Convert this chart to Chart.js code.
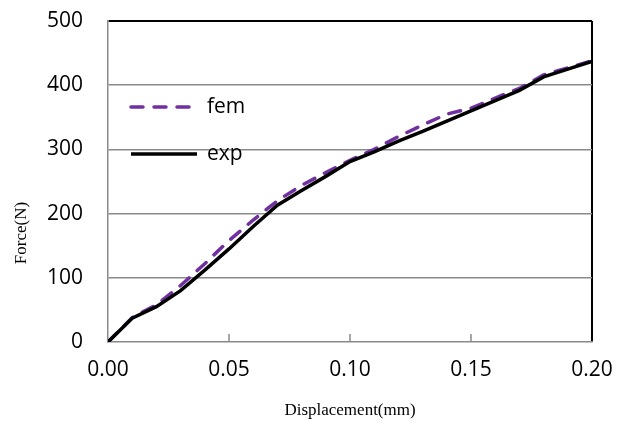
<!DOCTYPE html>
<html>
<head>
<meta charset="utf-8">
<script src="https://cdn.jsdelivr.net/npm/chart.js@4"></script>
<style>
  html, body { margin: 0; padding: 0; background: #fff; }
  #wrap { width: 619px; height: 429px; }
</style>
</head>
<body>
<div id="wrap"><canvas id="myChart" width="619" height="429"></canvas></div>
<script>
'use strict';

// ======= data =======

var displacement = [0, 0.01, 0.02, 0.03, 0.04, 0.05, 0.06, 0.07, 0.08, 0.09, 0.10,
  0.11, 0.12, 0.13, 0.14, 0.15, 0.16, 0.17, 0.18, 0.19, 0.20];
var femForce = [0, 38, 58, 88, 122, 158, 190, 220, 244, 264, 283,
  300, 320, 338, 355, 364, 380, 395, 416, 427, 438];
var expForce = [0, 37, 55, 80, 112, 145, 180, 213, 236, 258, 281,
  296, 313, 328, 344, 360, 376, 392, 413, 425, 437];

var xTicks = [0, 0.05, 0.10, 0.15, 0.20];
var yTicks = [0, 100, 200, 300, 400, 500];

var seriesNames = ['fem', 'exp'];
var xTitle = 'Displacement(mm)';
var yTitle = 'Force(N)';

// ======= end data =======

var GRAY = '#8a8a8a';
var PURPLE = '#7030a0';
var CLEAR = 'rgba(0,0,0,0)';
var tickFont = { family: '"Open Sans"', size: 21 };
var titleFont = '17px "Liberation Serif"';

function toPoints(xs, ys) {
  return xs.map(function (x, i) { return { x: x, y: ys[i] }; });
}

// short ticks pointing up into the plot from the x axis
var innerTicks = {
  id: 'innerTicks',
  afterDraw: function (chart) {
    var ctx = chart.ctx;
    var xs = chart.scales.x;
    var bottom = chart.chartArea.bottom;
    ctx.save();
    ctx.strokeStyle = GRAY;
    ctx.lineWidth = 1.5;
    xTicks.slice(1, -1).forEach(function (v) {
      var px = Math.round(xs.getPixelForValue(v));
      ctx.beginPath();
      ctx.moveTo(px, bottom);
      ctx.lineTo(px, bottom - 8);
      ctx.stroke();
    });
    ctx.restore();
  }
};

// legend sitting inside the plot, top left
var insideLegend = {
  id: 'insideLegend',
  afterDraw: function (chart) {
    var ctx = chart.ctx;
    var area = chart.chartArea;
    var rows = [107, 154];
    ctx.save();
    chart.data.datasets.forEach(function (ds, i) {
      var y = rows[i];
      ctx.beginPath();
      ctx.strokeStyle = ds.borderColor;
      ctx.lineWidth = ds.borderWidth;
      ctx.lineCap = ds.borderCapStyle || 'butt';
      ctx.setLineDash(ds.borderDash || []);
      ctx.moveTo(area.left + 23, y);
      ctx.lineTo(area.left + 89, y);
      ctx.stroke();
      ctx.setLineDash([]);
      ctx.fillStyle = '#000';
      ctx.font = tickFont.size + 'px ' + tickFont.family;
      ctx.textAlign = 'left';
      ctx.textBaseline = 'middle';
      ctx.fillText(ds.label, area.left + 99, y);
    });
    ctx.restore();
  }
};

// vertical axis title, set a little below the middle of the plot
var yAxisTitle = {
  id: 'yAxisTitle',
  afterDraw: function (chart) {
    var ctx = chart.ctx;
    ctx.save();
    ctx.translate(22, chart.chartArea.bottom - 109);
    ctx.rotate(-Math.PI / 2);
    ctx.font = titleFont;
    ctx.fillStyle = '#000';
    ctx.textAlign = 'center';
    ctx.textBaseline = 'middle';
    ctx.fillText(yTitle, 0, 0);
    ctx.restore();
  }
};

var ctx = document.getElementById('myChart').getContext('2d');
var chart = new Chart(ctx, {
  type: 'line',
  data: {
    datasets: [{
      label: seriesNames[0],
      data: toPoints(displacement, femForce),
      borderColor: PURPLE,
      borderWidth: 3.5,
      borderDash: [12, 11],
      borderCapStyle: 'round',
      pointRadius: 0,
      tension: 0,
      order: 1
    },
    {
      label: seriesNames[1],
      data: toPoints(displacement, expForce),
      borderColor: '#000',
      borderWidth: 3.5,
      pointRadius: 0,
      tension: 0,
      order: 0
    }]
  },
  options: {
    responsive: false,
    animation: false,
    layout: {
      autoPadding: false,
      padding: { top: 21, right: 27, left: 0, bottom: 0 }
    },
    plugins: {
      legend: { display: false },
      tooltip: { enabled: false }
    },
    scales: {
      x: {
        type: 'linear',
        min: 0,
        max: 0.2,
        afterFit: function (scale) { scale.height = 87; },
        afterBuildTicks: function (scale) {
          scale.ticks = xTicks.map(function (v) { return { value: v }; });
        },
        ticks: {
          color: '#000',
          font: tickFont,
          padding: 0,
          maxRotation: 0,
          callback: function (v) { return v.toFixed(2); }
        },
        // tick marks kept invisible, their length only spaces the labels
        grid: {
          drawTicks: true,
          tickLength: 15,
          tickColor: CLEAR,
          color: function (c) { return c.tick && c.tick.value === 0.2 ? '#000' : CLEAR; },
          lineWidth: 2
        },
        border: { color: GRAY, width: 1.5 },
        title: {
          display: true,
          text: xTitle,
          font: { family: '"Liberation Serif"', size: 17 },
          color: '#000',
          padding: { top: 0, bottom: 8 }
        }
      },
      y: {
        min: 0,
        max: 500,
        afterFit: function (scale) { scale.width = 108; },
        afterBuildTicks: function (scale) {
          scale.ticks = yTicks.map(function (v) { return { value: v }; });
        },
        ticks: {
          color: '#000',
          font: tickFont,
          padding: 0
        },
        grid: {
          drawTicks: true,
          tickLength: 25,
          tickColor: CLEAR,
          color: function (c) {
            if (!c.tick) return GRAY;
            if (c.tick.value === 500) return '#000';
            if (c.tick.value === 0) return CLEAR;
            return GRAY;
          },
          lineWidth: function (c) { return c.tick && c.tick.value === 500 ? 2 : 1.5; }
        },
        border: { color: GRAY, width: 1.5 }
      }
    }
  },
  plugins: [innerTicks, insideLegend, yAxisTitle]
});
</script>
</body>
</html>
